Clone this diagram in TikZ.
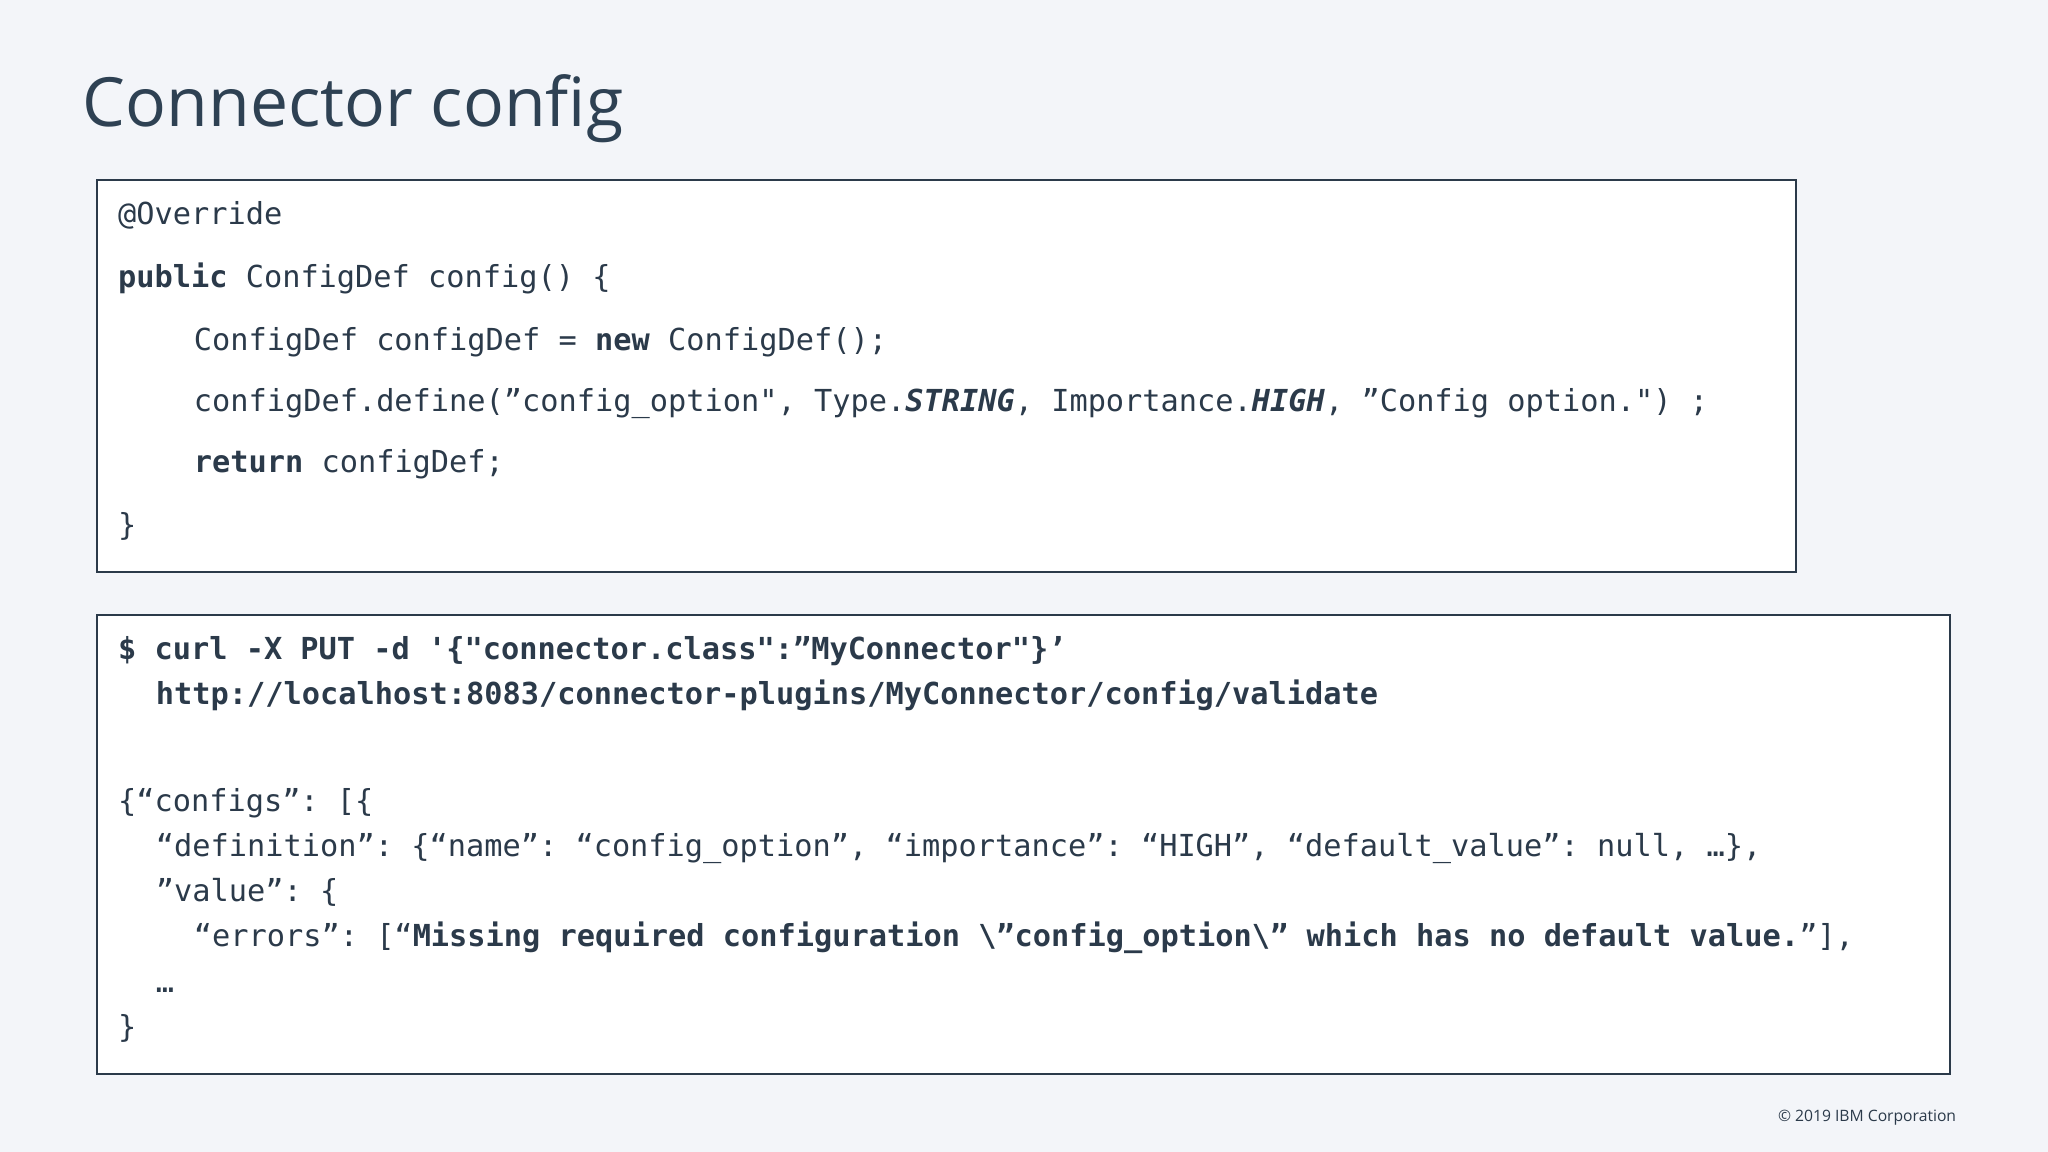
\documentclass[tikz,border=0pt]{standalone}
\usepackage{fontspec}
\setmainfont{Open Sans}
\setmonofont{DejaVu Sans Mono}
\definecolor{bg}{HTML}{F3F5F9}
\definecolor{ink}{HTML}{2B3A4A}
\definecolor{title}{HTML}{2E4153}
\begin{document}
\begin{tikzpicture}[x=0.5pt,y=-0.5pt,
  code/.style={anchor=base west,inner sep=0pt,text=ink,font=\ttfamily\fontsize{11.6}{14}\selectfont},
  box/.style={draw=ink,line width=0.8pt,fill=white}]
\useasboundingbox (0,0) rectangle (1568,882);
\fill[bg] (0,0) rectangle (1568,882);
\node[anchor=base west,inner sep=0pt,text=title,font=\fontsize{26}{30}\selectfont] (t) at (63,97) {Connector config};
\draw[box] (74,138) rectangle (1375,438);
\draw[box] (74,471) rectangle (1493,822);
\node[code] (a1) at (90,172) {@Override};
\node[code] (a2) at (90,220) {\textbf{public} ConfigDef config() \{};
\node[code] (a3) at (148,268) {ConfigDef configDef = \textbf{new} ConfigDef();};
\node[code] (a4) at (148,315) {configDef.define(”config\_option", Type.\textbf{\textit{STRING}}, Importance.\textbf{\textit{HIGH}}, ”Config option.") ;};
\node[code] (a5) at (148,362) {\textbf{return} configDef;};
\node[code] (a6) at (90,410) {\}};
\node[code] (b1) at (90,505) {\textbf{\$ curl -X PUT -d '\{"connector.class":”MyConnector"\}’}};
\node[code] (b2) at (119,539) {\textbf{http://localhost:8083/connector-plugins/MyConnector/config/validate}};
\node[code] (b3) at (90,621) {\{“configs”: [\{};
\node[code] (b4) at (119,656) {“definition”: \{“name”: “config\_option”, “importance”: “HIGH”, “default\_value”: null, …\},};
\node[code] (b5) at (119,690) {”value”: \{};
\node[code] (b6) at (148,725) {“errors”: [“\textbf{Missing required configuration \textbackslash”config\_option\textbackslash” which has no default value.}”],};
\node[code] (b7) at (119,760) {…};
\node[code] (b8) at (90,794) {\}};
\node[anchor=base east,inner sep=0pt,text=ink,font=\fontsize{6}{7}\selectfont] (c) at (1498,859) {© 2019 IBM Corporation};
\end{tikzpicture}
\end{document}
